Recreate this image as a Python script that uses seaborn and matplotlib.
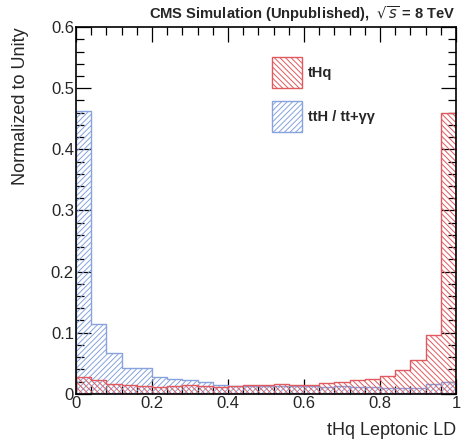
import numpy as np
from matplotlib import pyplot as plt
from matplotlib.patches import Patch
from matplotlib.ticker import MultipleLocator
import seaborn as sns

# 25 bins of width 0.04 on [0, 1]
n_bins = 25
bin_centers = (np.arange(n_bins) + 0.5) / n_bins

# normalized contents
thq = [0.027, 0.023, 0.016, 0.015, 0.013, 0.011, 0.013, 0.014, 0.013, 0.011,
       0.012, 0.014, 0.015, 0.016, 0.015, 0.014, 0.017, 0.020, 0.023, 0.025,
       0.029, 0.039, 0.055, 0.096, 0.460]
tth = [0.462, 0.115, 0.067, 0.043, 0.043, 0.027, 0.024, 0.022, 0.020, 0.015,
       0.012, 0.012, 0.013, 0.012, 0.013, 0.012, 0.011, 0.012, 0.011, 0.011,
       0.009, 0.009, 0.009, 0.016, 0.020]

red = '#e05a5f'
blue = '#86a3dd'

sns.set_style('ticks')
plt.rcParams['font.family'] = ['Liberation Sans', 'DejaVu Sans']
plt.rcParams['hatch.linewidth'] = 0.7

fig = plt.figure(figsize=(4.61, 4.45), dpi=100)
ax = fig.add_axes([0.165, 0.115, 0.824, 0.824])

for vals, col, hatch in [(tth, blue, '//////'), (thq, red, '\\\\\\\\\\\\')]:
    sns.histplot(x=bin_centers, weights=vals, bins=n_bins, binrange=(0, 1), element='step',
                 fill=True, color=col, edgecolor=col, hatch=hatch, linewidth=1.0, ax=ax)
    ax.collections[-1].set_facecolor('none')

ax.set_xlim(0, 1)
ax.set_ylim(0, 0.6)
ax.xaxis.set_major_locator(MultipleLocator(0.2))
ax.xaxis.set_minor_locator(MultipleLocator(0.04))
ax.yaxis.set_major_locator(MultipleLocator(0.1))
ax.yaxis.set_minor_locator(MultipleLocator(0.02))
ax.set_xticks([0, 0.2, 0.4, 0.6, 0.8, 1.0], ['0', '0.2', '0.4', '0.6', '0.8', '1'])
ax.set_yticks([0, 0.1, 0.2, 0.3, 0.4, 0.5, 0.6], ['0', '0.1', '0.2', '0.3', '0.4', '0.5', '0.6'])
ax.tick_params(which='both', direction='in', top=True, right=True, labelsize=12,
               width=0.9, color='black', pad=1.5)
ax.tick_params(which='major', length=11)
ax.tick_params(which='minor', length=6)
for s in ax.spines.values():
    s.set_linewidth(1.2)
    s.set_color('black')

ax.set_xlabel('tHq Leptonic LD', fontsize=13, loc='right', labelpad=8)
ax.set_ylabel('Normalized to Unity', fontsize=13, loc='top')
ax.yaxis.set_label_coords(-0.125, 1.0)
ax.set_title(r'CMS Simulation (Unpublished),  $\sqrt{s}$ = 8 TeV', fontsize=10.6,
             fontweight='bold', loc='right', pad=6)

handles = [Patch(facecolor='none', edgecolor=red, hatch='\\\\\\\\\\\\', label='tHq'),
           Patch(facecolor='none', edgecolor=blue, hatch='//////', label='ttH / tt+γγ')]
ax.legend(handles=handles, loc='upper left', bbox_to_anchor=(0.516, 0.918), frameon=False,
          borderpad=0, borderaxespad=0,
          handlelength=2.08, handleheight=2.9, labelspacing=0.9, handletextpad=0.4,
          prop={'weight': 'bold', 'size': 10.5})

fig.savefig('out.png', dpi=100)
